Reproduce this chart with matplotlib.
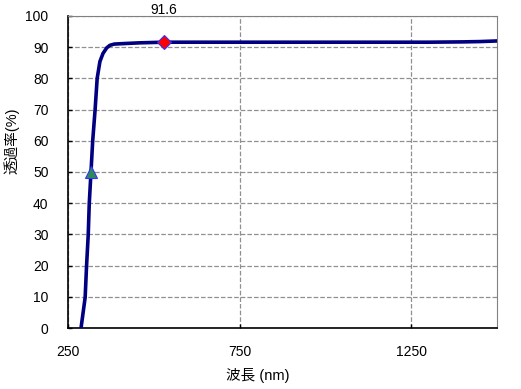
import matplotlib
matplotlib.use("Agg")
import matplotlib.pyplot as plt

plt.rcParams['font.family'] = ['Liberation Sans', 'Noto Sans CJK JP', 'DejaVu Sans']

# transmittance curve
wavelength = [288, 300, 304, 309, 312, 317, 322, 329, 335, 343, 352, 363, 372, 385,
              420, 460, 530, 700, 900, 1100, 1300, 1400, 1450, 1500]
transmit = [0, 9.8, 19.7, 30, 40, 50, 60, 70, 80, 85.4, 88, 89.8, 90.6, 91,
            91.2, 91.4, 91.6, 91.6, 91.6, 91.6, 91.6, 91.7, 91.8, 92.0]

half_point = (317, 50)
peak_point = (530, 91.6)
peak_label = "91.6"

x_ticks = [250, 750, 1250]
y_ticks = list(range(0, 101, 10))

fig = plt.figure(figsize=(5.21, 3.89), dpi=100)
ax = fig.add_axes([0.1305, 0.1568, 0.8235, 0.8021])

ax.plot(wavelength, transmit, color='#000080', lw=2.6, zorder=3)
ax.plot(*half_point, marker='^', ms=8, mfc='#2e8b57', mec='#3333ff', mew=0.8, zorder=4)
ax.plot(*peak_point, marker='D', ms=7, mfc='#ff0000', mec='#3333ff', mew=0.8, zorder=4)
ax.text(peak_point[0], 101.9, peak_label, ha='center', va='center', fontsize=10, clip_on=False)

ax.set_xlim(250, 1500)
ax.set_ylim(0, 100)
ax.set_xticks(x_ticks)
ax.set_yticks(y_ticks)
ax.tick_params(direction='in', length=3, labelsize=10, width=1)
ax.tick_params(axis='y', pad=14)
ax.tick_params(axis='x', pad=12)
ax.grid(True, ls='--', color='#909090', lw=0.9)

for side in ['top', 'right']:
    ax.spines[side].set_color('#808080')
for side in ['left', 'bottom']:
    ax.spines[side].set_color('black')
    ax.spines[side].set_linewidth(1.2)

ax.set_xlabel("波長 (nm)", fontsize=10.5)
ax.set_ylabel("透過率(%)", fontsize=10.5)
ax.xaxis.set_label_coords(0.443, -0.128)
ax.yaxis.set_label_coords(-0.112, 0.6)

fig.savefig("out.png", dpi=100)
